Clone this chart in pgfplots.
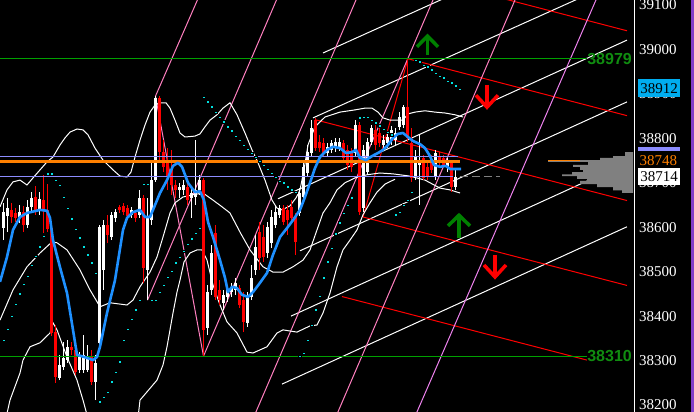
\documentclass[border=0pt]{standalone}
\usepackage{pgfplots}
\pgfplotsset{compat=1.18}
\usepackage{pgfplotstable}
\usepackage{fontspec}
\setmainfont{Liberation Serif}
\newfontfamily\lsans{Liberation Sans}

\definecolor{fanpink}{RGB}{255,128,192}
\definecolor{fanvio}{RGB}{238,130,238}
\definecolor{mablue}{RGB}{30,144,255}
\definecolor{sar}{RGB}{0,225,225}
\definecolor{lvl}{RGB}{0,160,0}
\definecolor{lvltxt}{RGB}{16,140,16}
\definecolor{poc}{RGB}{255,128,0}
\definecolor{lav}{RGB}{140,140,255}
\definecolor{arrgreen}{RGB}{0,128,0}
\definecolor{strip}{RGB}{130,60,200}
\definecolor{vprof}{RGB}{128,128,128}

% candles: x, body low, body high, low, high
\pgfplotstableread{
x bl bh l h
3.5 38598 38634 38571 38655
7.5 38625 38643 38589 38666
19.5 38623 38634 38610 38650
27.5 38605 38646 38598 38661
31.5 38646 38666 38634 38679
39.5 38639 38664 38628 38679
59.5 38261 38290 38256 38313
63.5 38286 38306 38279 38342
67.5 38301 38331 38295 38346
79.5 38279 38308 38272 38319
83.5 38279 38313 38272 38358
87.5 38279 38308 38274 38335
95.5 38252 38295 38211 38313
99.5 38340 38601 38324 38605
103.5 38504 38605 38459 38616
111.5 38578 38628 38571 38634
115.5 38621 38634 38612 38641
131.5 38628 38639 38621 38646
139.5 38628 38666 38621 38684
147.5 38504 38623 38436 38666
151.5 38616 38706 38605 38751
155.5 38706 38891 38702 38895
179.5 38684 38691 38666 38700
183.5 38684 38695 38673 38706
191.5 38666 38677 38621 38691
195.5 38668 38684 38650 38796
199.5 38684 38706 38673 38718
207.5 38373 38454 38358 38470
211.5 38459 38542 38448 38560
223.5 38430 38448 38414 38459
227.5 38443 38459 38432 38470
231.5 38454 38466 38443 38475
235.5 38459 38475 38448 38486
247.5 38385 38441 38376 38454
251.5 38443 38486 38436 38515
255.5 38504 38556 38493 38583
267.5 38542 38601 38531 38612
271.5 38565 38623 38553 38639
275.5 38605 38634 38598 38650
279.5 38628 38643 38621 38650
299.5 38632 38677 38625 38688
303.5 38668 38736 38661 38747
307.5 38722 38769 38715 38785
311.5 38767 38823 38760 38841
327.5 38767 38781 38758 38790
331.5 38774 38790 38767 38796
335.5 38778 38792 38769 38801
339.5 38778 38792 38772 38801
355.5 38767 38830 38758 38841
363.5 38643 38774 38634 38785
367.5 38724 38792 38718 38801
371.5 38792 38823 38785 38830
383.5 38785 38796 38774 38808
387.5 38790 38803 38778 38812
391.5 38796 38819 38785 38828
395.5 38796 38812 38785 38823
399.5 38826 38848 38819 38859
403.5 38830 38871 38823 38875
415.5 38713 38758 38706 38774
419.5 38740 38751 38650 38808
435.5 38713 38767 38706 38774
447.5 38736 38747 38724 38756
455.5 38691 38714 38684 38729
}\whitec

\pgfplotstableread{
x bl bh l h
11.5 38623 38639 38610 38655
15.5 38621 38632 38612 38643
23.5 38605 38634 38589 38648
35.5 38634 38668 38628 38693
43.5 38639 38661 38587 38718
47.5 38596 38639 38589 38697
51.5 38362 38598 38355 38603
55.5 38263 38364 38250 38380
71.5 38324 38331 38313 38342
75.5 38274 38324 38268 38328
91.5 38252 38308 38245 38324
107.5 38583 38605 38565 38628
119.5 38639 38646 38632 38650
123.5 38634 38648 38628 38655
127.5 38625 38643 38616 38650
135.5 38621 38632 38612 38639
143.5 38508 38666 38475 38673
159.5 38769 38891 38751 38895
163.5 38736 38769 38724 38796
167.5 38713 38751 38684 38778
171.5 38695 38729 38673 38774
175.5 38684 38695 38666 38706
187.5 38661 38691 38650 38702
203.5 38369 38706 38310 38711
215.5 38443 38587 38436 38605
219.5 38436 38459 38425 38481
239.5 38425 38463 38418 38470
243.5 38387 38436 38364 38454
259.5 38531 38589 38504 38612
263.5 38533 38578 38522 38605
283.5 38612 38643 38605 38650
287.5 38616 38639 38583 38650
291.5 38621 38646 38612 38661
295.5 38567 38623 38538 38632
315.5 38778 38841 38772 38846
319.5 38778 38792 38769 38808
323.5 38767 38790 38758 38801
343.5 38756 38790 38747 38796
347.5 38740 38774 38729 38785
351.5 38736 38767 38724 38778
359.5 38634 38830 38628 38837
375.5 38785 38819 38774 38830
379.5 38790 38812 38781 38823
407.5 38801 38871 38792 38979
411.5 38711 38790 38702 38823
423.5 38711 38756 38706 38763
427.5 38713 38736 38706 38751
431.5 38729 38751 38722 38763
439.5 38745 38760 38738 38769
443.5 38738 38756 38733 38763
451.5 38691 38745 38679 38751
}\redc

\begin{document}
\begin{tikzpicture}
\fill[black] (0,0) rectangle (694pt,412pt);
\begin{axis}[
  at={(0pt,0pt)}, anchor=south west,
  scale only axis, width=634pt, height=412pt,
  xmin=0, xmax=634, ymin=38184.25, ymax=39111.25,
  axis x line=none, axis y line*=right,
  y axis line style={white, line width=1pt},
  xtick=\empty,
  ytick={38200,38300,38400,38500,38600,38700,38800,38900,39000,39100},
  yticklabels={38200,38300,38400,38500,38600,38700,38800,38900,39000,39100},
  major tick length=0pt,
  yticklabel style={anchor=west, inner sep=0pt, xshift=5pt, text=white,
    font=\fontsize{15}{15}\selectfont},
]
% fan / channel lines
\addplot[white, line width=1pt] coordinates {(323,38992) (460,39131)};
\addplot[white, line width=1pt] coordinates {(313,38846) (600,39136)};
\addplot[white, line width=1pt] coordinates {(278,38664) (627,39021)};
\addplot[white, line width=1pt] coordinates {(300,38547) (627,38882)};
\addplot[white, line width=1pt] coordinates {(291,38400) (627,38745)};
\addplot[white, line width=1pt] coordinates {(282,38247) (627,38601)};
\addplot[red, line width=1pt] coordinates {(480,39128) (627,39042)};
\addplot[red, line width=1pt] coordinates {(408,38979) (627,38851)};
\addplot[red, line width=1pt] coordinates {(315,38842) (627,38660)};
\addplot[red, line width=1pt] coordinates {(363,38623) (627,38469)};
\addplot[red, line width=1pt] coordinates {(342,38444) (587,38301)};
\addplot[red, line width=1pt] coordinates {(363,38623) (408,38979)};
\addplot[fanpink, line width=1pt] coordinates {(155.5,38895) (199.5,39122)};
\addplot[fanpink, line width=1pt] coordinates {(147.5,38436) (279.5,39127)};
\addplot[fanpink, line width=1pt] coordinates {(203.5,38310) (359,39127)};
\addplot[fanpink, line width=1pt] coordinates {(253,38169) (436,39127)};
\addplot[fanpink, line width=1pt] coordinates {(335,38169) (518,39127)};
\addplot[fanpink, line width=1pt] coordinates {(155.5,38895) (203.5,38310)};
\addplot[fanvio, line width=1pt] coordinates {(414,38169) (599,39127)};

% volume profile
\addplot[draw=none, fill=vprof] coordinates {
(633,38769) (625,38769) (625,38760) (613,38760) (613,38756) (600,38756)
(600,38751) (548,38751) (548,38747) (588,38747) (588,38740) (573,38740)
(573,38736) (580,38736) (580,38729) (583,38729) (583,38724) (572,38724)
(572,38719) (562,38719) (562,38715) (577,38715) (577,38709) (587,38709)
(587,38704) (580,38704) (580,38697) (597,38697) (597,38690) (613,38690)
(613,38683) (622,38683) (622,38677) (633,38677)} -- cycle;
\addplot[poc, line width=1pt] coordinates {(548,38749) (580,38749)};

% bands
\addplot[white, line width=1pt] coordinates {
(0,38646) (7,38684) (13,38702) (20,38706) (27,38695) (33,38711) (40,38729)
(47,38747) (53,38758) (60,38785) (65,38801) (70,38814) (77,38821) (83,38819)
(88,38808) (95,38778) (103,38751) (113,38729) (120,38715) (127,38713)
(131,38724) (135,38758) (140,38796) (145,38830) (150,38859) (155,38875)
(160,38880) (166,38880) (170,38868) (175,38841) (180,38812) (185,38803)
(195,38805) (200,38810) (205,38826) (210,38841) (217,38853) (223,38868)
(230,38880) (237,38853) (245,38812) (252,38774) (258,38745) (265,38706)
(272,38661) (277,38643) (282,38639) (290,38648) (296,38666) (300,38684)
(304,38729) (308,38785) (315,38826) (325,38848) (340,38859) (355,38864)
(365,38868) (372,38868) (378,38859) (383,38846) (390,38841) (397,38841)
(403,38841) (408,38855) (415,38859) (425,38862) (435,38859) (445,38857)
(455,38853) (463,38848)};
\addplot[white, line width=1pt] coordinates {
(0,38391) (13,38459) (27,38511) (40,38542) (52,38567) (57,38565) (67,38549)
(80,38504) (90,38459) (100,38421) (110,38430) (127,38425) (133,38436)
(140,38466) (150,38499) (157,38533) (163,38578) (170,38632) (175,38655)
(183,38668) (193,38673) (203,38677) (213,38661) (222,38646) (230,38632)
(240,38589) (250,38549) (263,38511) (273,38499) (283,38499) (293,38511)
(303,38526) (310,38549) (317,38594) (323,38632) (330,38655) (337,38684)
(345,38700) (355,38711) (367,38718) (380,38722) (393,38720) (410,38715)
(425,38706) (440,38688) (450,38684) (460,38677)};
\addplot[white, line width=1pt] coordinates {
(6,38171) (10,38211) (20,38272) (23,38301) (30,38331) (40,38340) (50,38362)
(53,38385) (57,38369) (67,38308) (77,38256) (83,38211) (87,38178)};
\addplot[white, line width=1pt] coordinates {
(138,38171) (140,38211) (157,38256) (163,38290) (167,38331) (173,38407)
(177,38454) (180,38481) (184,38522) (190,38542) (197,38549) (202,38549)
(207,38526) (213,38470) (220,38425) (227,38387) (237,38362) (247,38319)
(253,38317) (267,38331) (277,38362) (283,38369) (297,38364) (310,38378)
(317,38380) (323,38407) (330,38452) (337,38511) (343,38549) (350,38571)
(357,38594) (363,38628) (370,38655) (377,38679) (385,38697) (395,38708)};

% candles: wicks, then bodies, as vertical segments from low to high
\addplot[white, line width=1pt, quiver={u=0, v=\thisrow{h}-\thisrow{l}}]
  table[x=x, y=l] {\whitec};
\addplot[white, line width=3pt, quiver={u=0, v=\thisrow{bh}-\thisrow{bl}}]
  table[x=x, y=bl] {\whitec};
\addplot[red, line width=1pt, quiver={u=0, v=\thisrow{h}-\thisrow{l}}]
  table[x=x, y=l] {\redc};
\addplot[red, line width=3pt, quiver={u=0, v=\thisrow{bh}-\thisrow{bl}}]
  table[x=x, y=bl] {\redc};

% levels
\addplot[lvl, line width=1.2pt] coordinates {(0,38979) (587,38979)};
\addplot[lvl, line width=1.2pt] coordinates {(0,38310) (587,38310)};
\addplot[lav, line width=1pt] coordinates {(0,38758) (458,38758)};
\addplot[lav, line width=1pt] coordinates {(0,38713) (453,38713)};
\addplot[poc, line width=2.7pt] coordinates {(0,38748) (460,38748)};
\addplot[gray, line width=1pt, dash pattern=on 8pt off 4pt] coordinates {(460,38713) (500,38713)};

% moving average
\addplot[mablue, line width=2.6pt, line join=round] coordinates {
(0,38477) (7,38533) (13,38594) (20,38623) (27,38632) (40,38639) (47,38637)
(50,38621) (53,38571) (60,38510) (67,38452) (73,38369) (77,38313) (87,38306)
(93,38301) (97,38308) (100,38331) (107,38407) (115,38481) (123,38594)
(127,38621) (133,38634) (140,38639) (145,38623) (150,38623) (153,38639)
(160,38677) (167,38706) (173,38738) (178,38745) (182,38736) (188,38700)
(195,38679) (200,38681) (204,38661) (208,38612) (213,38578) (220,38526)
(225,38486) (228,38454) (232,38466) (237,38463) (242,38448) (248,38443)
(253,38454) (260,38475) (267,38497) (273,38538) (280,38578) (287,38598)
(293,38616) (300,38639) (305,38668) (310,38700) (315,38733) (320,38758)
(327,38774) (333,38781) (340,38778) (346,38767) (352,38769) (356,38774)
(360,38756) (366,38751) (372,38760) (378,38767) (383,38774) (388,38785)
(393,38801) (398,38810) (403,38812) (408,38803) (413,38794) (420,38787)
(425,38778) (430,38760) (434,38740) (440,38736) (446,38738) (450,38731)
(461,38731)};

% parabolic SAR
\addplot[only marks, mark=square*, mark size=1.25pt, mark options={draw=none, fill=sar}] coordinates {
(3.5,38346) (7.5,38371) (11.5,38400) (15.5,38427) (19.5,38450) (23.5,38472)
(27.5,38490) (31.5,38515) (35.5,38535) (39.5,38556) (43.5,38580)
(47.5,38720) (51.5,38720) (55.5,38706) (59.5,38695) (63.5,38668) (67.5,38643)
(71.5,38619) (75.5,38596) (79.5,38576) (83.5,38556) (87.5,38538) (91.5,38520)
(95.5,38497)
(99.5,38207) (103.5,38218) (107.5,38229) (111.5,38252) (115.5,38274)
(119.5,38297) (123.5,38346) (127.5,38371) (131.5,38393) (135.5,38414)
(139.5,38436)
(143.5,38697) (147.5,38697)
(151.5,38436) (155.5,38436) (159.5,38454) (163.5,38470) (167.5,38488)
(171.5,38501) (175.5,38520) (179.5,38533) (183.5,38546) (187.5,38562)
(191.5,38574) (195.5,38587) (199.5,38598)
(203.5,38893) (207.5,38882) (211.5,38871) (215.5,38859) (219.5,38848)
(223.5,38837) (227.5,38826) (231.5,38817) (235.5,38805) (239.5,38796)
(243.5,38785) (247.5,38776) (251.5,38767) (255.5,38758) (259.5,38749)
(263.5,38740) (267.5,38731) (271.5,38722) (275.5,38713) (279.5,38704)
(283.5,38700) (287.5,38691) (291.5,38684) (295.5,38679)
(299.5,38310) (303.5,38317) (307.5,38346) (311.5,38380) (315.5,38414)
(319.5,38445) (323.5,38486) (327.5,38522) (331.5,38553) (335.5,38585)
(339.5,38610) (343.5,38632) (347.5,38650) (351.5,38666)
(359.5,38846) (363.5,38848) (367.5,38848) (371.5,38841) (375.5,38835)
(379.5,38828) (383.5,38821) (387.5,38814) (391.5,38808)
(395.5,38628) (399.5,38634) (403.5,38650) (407.5,38661) (411.5,38679)
(415.5,38976) (419.5,38972) (423.5,38965) (427.5,38961) (431.5,38954)
(435.5,38947) (439.5,38940) (443.5,38936) (447.5,38929) (451.5,38925)
(455.5,38918) (459.5,38911)};

% signal arrows
\addplot[arrgreen, line width=3.5pt] coordinates {(427.5,38988) (427.5,39026)};
\addplot[arrgreen, line width=3.5pt, line join=miter] coordinates {(417,39006) (427.5,39030) (438,39006)};
\addplot[arrgreen, line width=3.5pt] coordinates {(459,38576) (459,38623)};
\addplot[arrgreen, line width=3.5pt, line join=miter] coordinates {(448,38603) (459,38627) (470,38603)};
\addplot[red, line width=3.5pt] coordinates {(487,38920) (487,38875)};
\addplot[red, line width=3.5pt, line join=miter] coordinates {(476,38897) (487,38870) (498,38897)};
\addplot[red, line width=3.5pt] coordinates {(495,38537) (495,38492)};
\addplot[red, line width=3.5pt, line join=miter] coordinates {(484,38515) (495,38488) (506,38515)};

\node[anchor=east, inner sep=0pt, text=lvltxt, font=\lsans\bfseries\fontsize{16}{16}\selectfont] at (axis cs:632,38979) {38979};
\node[anchor=east, inner sep=0pt, text=lvltxt, font=\lsans\bfseries\fontsize{16}{16}\selectfont] at (axis cs:632,38310) {38310};

\coordinate (cy) at (axis cs:638,38913);
\coordinate (pu) at (axis cs:638,38777);
\coordinate (oc) at (axis cs:639.5,38750);
\coordinate (wh) at (axis cs:638,38714);
\end{axis}
\fill[strip] (691pt,0pt) rectangle (694pt,412pt);
\node[anchor=west, fill=cyan, text=black, inner sep=0pt, minimum width=42pt, minimum height=18pt,
  font=\fontsize{15}{15}\selectfont] at (cy) {38912};
\node[anchor=west, fill=lav, inner sep=0pt, minimum width=42pt, minimum height=4pt] at (pu) {};
\node[anchor=west, text=poc, inner sep=0pt, font=\fontsize{15}{15}\selectfont] at (oc) {38748};
\node[anchor=west, fill=white, text=black, inner sep=0pt, minimum width=42pt, minimum height=17pt,
  font=\fontsize{15}{15}\selectfont] at (wh) {38714};
\pgfresetboundingbox
\path[use as bounding box] (0pt,0pt) rectangle (694pt,412pt);
\end{tikzpicture}
\end{document}
